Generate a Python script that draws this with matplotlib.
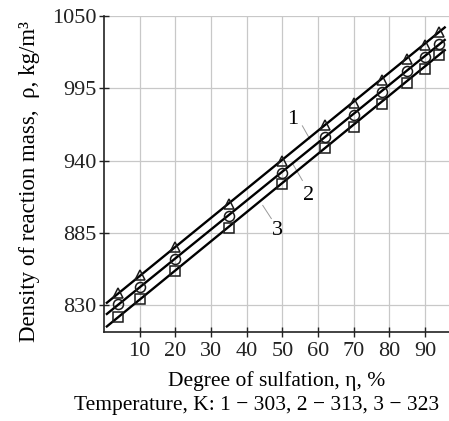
import matplotlib
matplotlib.use("Agg")
import matplotlib.pyplot as plt

# ---- data ----
eta = [4, 10, 20, 35, 50, 62, 70, 78, 85, 90, 94]
rho_303 = [839.2, 853.0, 874.5, 907.3, 940.0, 967.3, 984.2, 1001.3, 1017.5, 1027.8, 1037.9]
rho_313 = [830.9, 844.2, 865.0, 898.0, 931.0, 958.3, 975.1, 992.3, 1008.2, 1018.7, 1028.8]
rho_323 = [820.8, 834.9, 856.3, 888.9, 922.0, 949.4, 965.8, 983.0, 999.1, 1009.9, 1020.3]

# fitted straight lines (end points)
line_x = [0.8, 95.5]
line_303 = [832.0, 1041.3]
line_313 = [823.5, 1031.8]
line_323 = [814.0, 1024.0]

xticks = [10, 20, 30, 40, 50, 60, 70, 80, 90]
yticks = [830, 885, 940, 995, 1050]

# curve labels: (text, label x, label y, leader start, leader end)
curve_labels = [
    ("1", 52.9, 971.6, (55.6, 966.5), (57.7, 956.4)),
    ("2", 57.4, 913.6, (52.9, 937.6), (55.6, 925.0)),
    ("3", 48.6, 887.0, (44.5, 906.0), (46.9, 896.0)),
]

plt.rcParams['font.family'] = ['Liberation Serif', 'DejaVu Serif']

fig = plt.figure(figsize=(4.49, 4.21), dpi=100)
ax = fig.add_axes([0.2316, 0.2121, 1.0 - 0.2316, 0.962 - 0.2121])

for ly in (line_303, line_313, line_323):
    ax.plot(line_x, ly, color='black', lw=1.7, zorder=3)

mk = dict(ls='none', mfc='none', mec='#1a1a1a', mew=1.1, zorder=4)
ax.plot(eta, rho_303, marker='^', ms=7.2, **mk)
ax.plot(eta, rho_313, marker='o', ms=7.2, **mk)
ax.plot(eta, rho_323, marker='s', ms=6.6, **mk)

for txt, lx, ly, p0, p1 in curve_labels:
    ax.text(lx, ly, txt, fontsize=16, ha='center', va='center', zorder=5)
    ax.plot([p0[0], p1[0]], [p0[1], p1[1]], color='#999999', lw=0.7, zorder=2)

ax.set_xlim(0, 96.7)
ax.set_ylim(810, 1050)
ax.set_xticks(xticks)
ax.set_yticks(yticks)
ax.grid(True, color='#c8c8c8', lw=0.9, zorder=0)
ax.set_axisbelow(True)
for s in ('top', 'right'):
    ax.spines[s].set_visible(False)
for s in ('left', 'bottom'):
    ax.spines[s].set_color('#222222')
    ax.spines[s].set_linewidth(1.2)
ax.tick_params(direction='inout', length=7, width=1.0, labelsize=16, colors='#222222')
ax.tick_params(axis='x', pad=4)
ax.tick_params(axis='y', pad=2)

ax.set_xlabel('Degree of sulfation, η, %', fontsize=15.5, va='top')
ax.xaxis.set_label_coords(0.50, -0.125)
ax.set_ylabel('Density of reaction mass,  ρ, kg/m³', fontsize=16.5)
ax.yaxis.set_label_coords(-0.185, 0.474)
fig.text(0.571, 0.026, 'Temperature, K: 1 − 303, 2 − 313, 3 − 323', fontsize=15.5,
         ha='center', va='baseline')

fig.savefig('out.png', dpi=100)
